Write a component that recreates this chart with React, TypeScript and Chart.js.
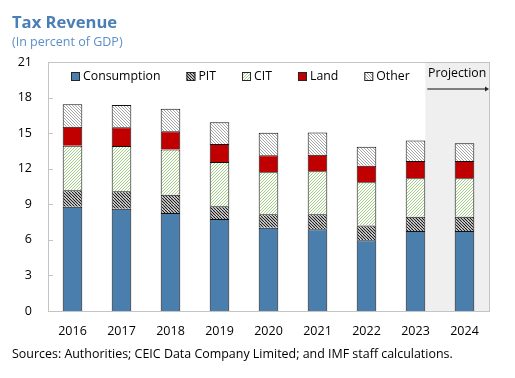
import React, { useEffect, useRef } from "react";
import { Chart, registerables } from "chart.js";

Chart.register(...registerables);

const years = ["2016", "2017", "2018", "2019", "2020", "2021", "2022", "2023", "2024"];
const consumption = [8.8, 8.63, 8.26, 7.76, 7.03, 6.89, 5.96, 6.75, 6.75];
const pit = [1.38, 1.46, 1.55, 1.07, 1.12, 1.26, 1.26, 1.2, 1.2];
const cit = [3.76, 3.82, 3.82, 3.73, 3.55, 3.63, 3.63, 3.24, 3.24];
const land = [1.6, 1.58, 1.52, 1.52, 1.43, 1.4, 1.4, 1.46, 1.46];
const other = [1.89, 1.88, 1.91, 1.83, 1.9, 1.88, 1.6, 1.74, 1.49];
const yTickValues = [0, 3, 6, 9, 12, 15, 18, 21];
const seriesNames = ["Consumption", "PIT", "CIT", "Land", "Other"];
const projectionStartIndex = 7;

const FONT = '"Open Sans", sans-serif';

function makePattern(color: string, dir: "back" | "fwd", lw: number): CanvasPattern | string {
  const size = 6;
  const c = document.createElement("canvas");
  c.width = size;
  c.height = size;
  const g = c.getContext("2d");
  if (!g) return "#fff";
  g.fillStyle = "#ffffff";
  g.fillRect(0, 0, size, size);
  g.strokeStyle = color;
  g.lineWidth = lw;
  g.beginPath();
  for (let k = -2; k <= 2; k++) {
    const o = k * size;
    if (dir === "back") {
      g.moveTo(o, 0);
      g.lineTo(o + size, size);
      g.moveTo(o - size / 2, 0);
      g.lineTo(o + size / 2, size);
    } else {
      g.moveTo(o, size);
      g.lineTo(o + size, 0);
      g.moveTo(o - size / 2, size);
      g.lineTo(o + size / 2, 0);
    }
  }
  g.stroke();
  const p = g.createPattern(c, "repeat");
  return p || "#fff";
}

export default function App() {
  const ref = useRef<HTMLCanvasElement | null>(null);

  useEffect(() => {
    const canvas = ref.current;
    if (!canvas) return;
    Chart.defaults.font.family = FONT;

    const pitFill = makePattern("#1a1a1a", "back", 1.2);
    const citFill = makePattern("#a3cc86", "fwd", 1.0);
    const otherFill = makePattern("#a6a6a6", "back", 1.0);
    const fills: any[] = ["#4a7ead", pitFill, citFill, "#c00000", otherFill];
    const values = [consumption, pit, cit, land, other];

    const decor = {
      id: "decor",
      beforeDraw(chart: any) {
        const { ctx } = chart;
        ctx.save();
        ctx.fillStyle = "#ffffff";
        ctx.fillRect(0, 0, chart.width, chart.height);
        ctx.restore();
      },
      beforeDatasetsDraw(chart: any) {
        const { ctx, chartArea } = chart;
        const meta = chart.getDatasetMeta(0);
        const el = meta.data[projectionStartIndex];
        const x0 = el.x + el.width / 2;
        ctx.save();
        ctx.fillStyle = "#efefef";
        ctx.fillRect(x0, chartArea.top, chartArea.right - x0, chartArea.bottom - chartArea.top);
        ctx.restore();
      },
      afterDatasetsDraw(chart: any) {
        const { ctx, chartArea } = chart;
        const { left, right, top, bottom } = chartArea;
        ctx.save();
        // frame
        ctx.strokeStyle = "#c4c4c4";
        ctx.lineWidth = 1;
        ctx.strokeRect(Math.round(left) + 0.5, Math.round(top) + 0.5, Math.round(right - left), Math.round(bottom - top));
        // inward y ticks
        const ys = chart.scales.y;
        ctx.beginPath();
        for (const v of yTickValues) {
          if (v === 0 || v === 21) continue;
          const py = Math.round(ys.getPixelForValue(v)) + 0.5;
          ctx.moveTo(left, py);
          ctx.lineTo(left + 5, py);
        }
        ctx.stroke();

        // legend
        ctx.font = `12.3px ${FONT}`;
        ctx.textBaseline = "middle";
        ctx.textAlign = "left";
        let x = left + 23;
        const ly = top + 14.5;
        seriesNames.forEach((name, i) => {
          ctx.fillStyle = fills[i];
          ctx.fillRect(x, ly - 4.5, 9, 9);
          ctx.strokeStyle = "#262626";
          ctx.lineWidth = 1;
          ctx.strokeRect(x + 0.5, ly - 4, 8, 8);
          ctx.fillStyle = "#000000";
          ctx.fillText(name, x + 12, ly);
          x += 12 + ctx.measureText(name).width + 26;
        });

        // projection label and arrow
        const meta = chart.getDatasetMeta(0);
        const el = meta.data[projectionStartIndex];
        const x0 = el.x + el.width / 2;
        ctx.fillStyle = "#000000";
        ctx.textAlign = "center";
        ctx.fillText("Projection", (x0 + right) / 2, top + 11);
        ctx.strokeStyle = "#595959";
        ctx.lineWidth = 1.5;
        ctx.beginPath();
        ctx.moveTo(x0 + 2, top + 27);
        ctx.lineTo(right - 2, top + 27);
        ctx.stroke();
        ctx.fillStyle = "#262626";
        ctx.beginPath();
        ctx.moveTo(right, top + 27);
        ctx.lineTo(right - 4, top + 24.5);
        ctx.lineTo(right - 4, top + 29.5);
        ctx.closePath();
        ctx.fill();
        ctx.restore();
      },
      afterDraw(chart: any) {
        const { ctx } = chart;
        ctx.save();
        ctx.textAlign = "left";
        ctx.textBaseline = "alphabetic";
        ctx.fillStyle = "#4a7fb5";
        ctx.font = `bold 16.6px ${FONT}`;
        ctx.fillText("Tax Revenue", 12, 27.5);
        ctx.fillStyle = "#5b8fc9";
        ctx.font = `12.5px ${FONT}`;
        ctx.fillText("(In percent of GDP)", 12, 45.5);
        ctx.fillStyle = "#000000";
        ctx.font = `12.45px ${FONT}`;
        ctx.fillText("Sources: Authorities; CEIC Data Company Limited; and IMF staff calculations.", 12, 358);
        ctx.restore();
      },
    };

    const chart = new Chart(canvas, {
      type: "bar",
      data: {
        labels: years,
        datasets: seriesNames.map((name, i) => ({
          label: name,
          data: values[i],
          backgroundColor: fills[i],
          borderColor: "#111111",
          borderWidth: 1,
          borderSkipped: "start",
          barPercentage: 0.4,
          categoryPercentage: 1,
        })),
      },
      options: {
        responsive: false,
        animation: false,
        events: [],
        layout: { padding: { left: 12, right: 26, top: 62, bottom: 37 } },
        plugins: {
          legend: { display: false },
          title: { display: false },
          tooltip: { enabled: false },
        },
        scales: {
          x: {
            stacked: true,
            grid: { display: false, drawTicks: false },
            border: { display: false },
            ticks: { padding: 13, color: "#000000", font: { size: 12.5 } },
            afterFit(scale: any) {
              scale.height = 30;
            },
          },
          y: {
            stacked: true,
            min: 0,
            max: 21,
            grid: { display: false, drawTicks: false },
            border: { display: false },
            afterBuildTicks(scale: any) {
              scale.ticks = yTickValues.map((v) => ({ value: v }));
            },
            ticks: { padding: 16, color: "#000000", font: { size: 12.5 } },
            afterFit(scale: any) {
              scale.width = 36;
            },
          },
        },
      },
      plugins: [decor],
    });

    return () => chart.destroy();
  }, []);

  return (
    <div style={{ position: "absolute", left: 0, top: 0, width: 515, height: 378 }}>
      <canvas ref={ref} width={515} height={378} />
    </div>
  );
}
